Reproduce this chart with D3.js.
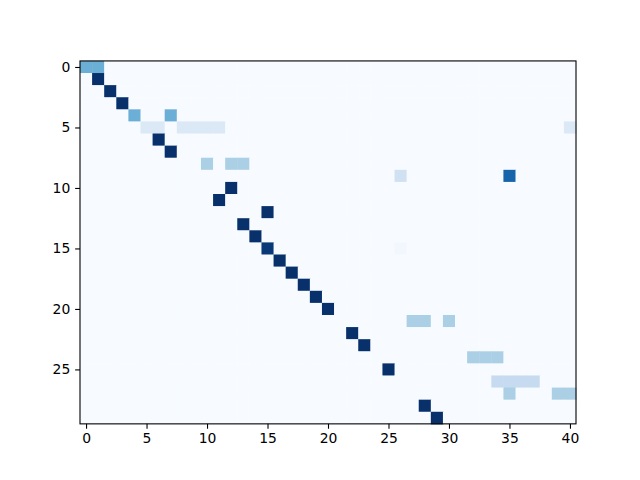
<!DOCTYPE html>
<html>
<head>
<meta charset="utf-8">
<script src="https://cdn.jsdelivr.net/npm/d3@7"></script>
<style>
  body { margin: 0; background: #fff; }
  svg { display: block; }
  .tick text { font-family: "DejaVu Sans", sans-serif; font-size: 13.9px; fill: #000; }
</style>
</head>
<body>
<div id="chart"></div>
<script>
var nRows = 30, nCols = 41;

// non-zero cells of the matrix (row, column, value)
var cellRows   = [0, 0, 1, 2, 3, 4, 4, 5, 5, 5, 5, 5, 5, 5, 6, 7, 8, 8, 8, 9, 9, 10, 11, 12, 13, 14, 15, 15, 16, 17, 18, 19, 20, 21, 21, 21, 22, 23, 24, 24, 24, 25, 26, 26, 26, 26, 27, 27, 27, 28, 29];
var cellCols   = [0, 1, 1, 2, 3, 4, 7, 5, 6, 8, 9, 10, 11, 40, 6, 7, 10, 12, 13, 26, 35, 12, 11, 15, 13, 14, 15, 26, 16, 17, 18, 19, 20, 27, 28, 30, 22, 23, 32, 33, 34, 25, 34, 35, 36, 37, 35, 39, 40, 28, 29];
var cellValues = [0.5, 0.5, 1, 1, 1, 0.5, 0.5, 0.143, 0.143, 0.143, 0.143, 0.143, 0.143, 0.143, 1, 1, 0.333, 0.333, 0.333, 0.2, 0.8, 1, 1, 1, 1, 1, 0.97, 0.03, 1, 1, 1, 1, 1, 0.333, 0.333, 0.333, 1, 1, 0.333, 0.333, 0.333, 1, 0.25, 0.25, 0.25, 0.25, 0.333, 0.333, 0.333, 1, 1];

var xTicks = [0, 5, 10, 15, 20, 25, 30, 35, 40];
var yTicks = [0, 5, 10, 15, 20, 25];

var blues = ["#f7fbff", "#deebf7", "#c6dbef", "#9ecae1", "#6baed6", "#4292c6", "#2171b5", "#08519c", "#08306b"];

var width = 640, height = 480;
var axLeft = 80, axRight = 576;
var cell = (axRight - axLeft) / nCols;
var axTop = 57.6 + (369.6 - cell * nRows) / 2;
var axBottom = axTop + cell * nRows;

// full matrix, zero everywhere except listed cells
var grid = [];
for (var r = 0; r < nRows; r++)
  for (var c = 0; c < nCols; c++)
    grid.push({r: r, c: c, v: 0});
cellRows.forEach(function(r, i) {
  grid[r * nCols + cellCols[i]].v = cellValues[i];
});

var svg = d3.select("#chart").append("svg")
    .attr("width", width)
    .attr("height", height);

var x = d3.scaleLinear().domain([-0.5, nCols - 0.5]).range([axLeft, axRight]);
var y = d3.scaleLinear().domain([-0.5, nRows - 0.5]).range([axTop, axBottom]);
var color = d3.scaleLinear()
    .domain(d3.range(blues.length).map(function(i) { return i / (blues.length - 1); }))
    .range(blues);

svg.append("g")
  .selectAll("rect")
  .data(grid)
  .enter().append("rect")
    .attr("x", function(d) { return x(d.c - 0.5); })
    .attr("y", function(d) { return y(d.r - 0.5); })
    .attr("width", x(1) - x(0) + 0.5)
    .attr("height", y(1) - y(0) + 0.5)
    .attr("fill", function(d) { return color(d.v); });

var tick = 4.86;

svg.append("g")
    .attr("transform", "translate(0," + axBottom + ")")
    .call(d3.axisBottom(x).tickValues(xTicks).tickFormat(d3.format("d"))
      .tickSize(tick).tickPadding(4.9))
    .call(function(g) { g.select(".domain").remove(); })
    .selectAll("line").attr("stroke-width", 1.1);

svg.append("g")
    .attr("transform", "translate(" + axLeft + ",0)")
    .call(d3.axisLeft(y).tickValues(yTicks).tickFormat(d3.format("d"))
      .tickSize(tick).tickPadding(4.9))
    .call(function(g) { g.select(".domain").remove(); })
    .selectAll("line").attr("stroke-width", 1.1);

svg.append("rect")
    .attr("x", axLeft)
    .attr("y", axTop)
    .attr("width", axRight - axLeft)
    .attr("height", axBottom - axTop)
    .attr("fill", "none")
    .attr("stroke", "#000")
    .attr("stroke-width", 1.1);
</script>
</body>
</html>
